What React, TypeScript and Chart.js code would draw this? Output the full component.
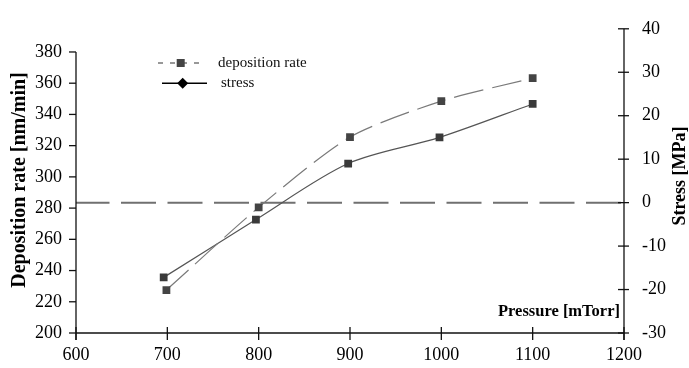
import { useEffect, useRef } from 'react';
import { Chart, registerables } from 'chart.js';

Chart.register(...registerables);

// ---- data ----
const depPressure = [699, 800, 900, 1000, 1100];
const depRate = [227.5, 280.5, 325.5, 348.5, 363.3];
const stressPressure = [696, 797, 898, 998, 1100];
const stressMPa = [-17.2, -3.9, 9.0, 15.0, 22.7];

const xMin = 600;
const xMax = 1200;
const xStep = 100;
const leftMin = 200;
const leftTopTick = 380;
const leftStep = 20;
const rightMin = -30;
const rightMax = 40;
const rightStep = 10;

const leftTitle = 'Deposition rate [nm/min]';
const rightTitle = 'Stress [MPa]';
const xTitle = 'Pressure [mTorr]';
const legendLabels = ['deposition rate', 'stress'];

const SERIF = '"Liberation Serif", "Times New Roman", serif';

const plain = (v: any) => String(v);

const decorPlugin = {
  id: 'decor',
  beforeDatasetsDraw(chart: any) {
    const { ctx, chartArea, scales } = chart;
    const y0 = scales.yR.getPixelForValue(0);
    ctx.save();
    ctx.strokeStyle = '#707070';
    ctx.lineWidth = 2;
    ctx.setLineDash([35, 11.5]);
    ctx.lineDashOffset = 1.5;
    ctx.beginPath();
    ctx.moveTo(chartArea.left, y0);
    ctx.lineTo(chartArea.right, y0);
    ctx.stroke();
    ctx.restore();
  },
  afterDraw(chart: any) {
    const { ctx, chartArea, scales } = chart;
    const { left, right, top, bottom } = chartArea;
    ctx.save();
    ctx.strokeStyle = '#111';
    ctx.lineWidth = 1.3;
    ctx.setLineDash([]);
    // left axis (from top tick down to x tick end)
    const leftTopY = scales.yL.getPixelForValue(leftTopTick);
    ctx.beginPath();
    ctx.moveTo(left, leftTopY);
    ctx.lineTo(left, bottom + 7);
    ctx.stroke();
    scales.yL.ticks.forEach((t: any) => {
      const y = scales.yL.getPixelForValue(t.value);
      ctx.beginPath();
      ctx.moveTo(left - 7, y);
      ctx.lineTo(left, y);
      ctx.stroke();
    });
    // bottom axis
    ctx.beginPath();
    ctx.moveTo(left, bottom);
    ctx.lineTo(right, bottom);
    ctx.stroke();
    scales.x.ticks.forEach((t: any) => {
      const x = scales.x.getPixelForValue(t.value);
      ctx.beginPath();
      ctx.moveTo(x, bottom - 6);
      ctx.lineTo(x, bottom + 7);
      ctx.stroke();
    });
    // right axis
    ctx.beginPath();
    ctx.moveTo(right, top);
    ctx.lineTo(right, bottom + 7);
    ctx.stroke();
    scales.yR.ticks.forEach((t: any) => {
      const y = scales.yR.getPixelForValue(t.value);
      ctx.beginPath();
      ctx.moveTo(right - 6, y);
      ctx.lineTo(right + 5, y);
      ctx.stroke();
    });

    // titles
    ctx.fillStyle = '#000';
    ctx.textAlign = 'center';
    ctx.textBaseline = 'middle';
    ctx.save();
    ctx.translate(20, 180);
    ctx.rotate(-Math.PI / 2);
    ctx.font = `bold 20px ${SERIF}`;
    ctx.fillText(leftTitle, 0, 0);
    ctx.restore();
    ctx.save();
    ctx.translate(680, 176);
    ctx.rotate(-Math.PI / 2);
    ctx.font = `bold 18px ${SERIF}`;
    ctx.fillText(rightTitle, 0, 0);
    ctx.restore();
    ctx.font = `bold 16.5px ${SERIF}`;
    ctx.textAlign = 'right';
    ctx.fillText(xTitle, right - 4, 312);

    // legend
    ctx.strokeStyle = '#777';
    ctx.lineWidth = 1.5;
    ctx.setLineDash([5, 7]);
    ctx.beginPath();
    ctx.moveTo(158, 63);
    ctx.lineTo(206, 63);
    ctx.stroke();
    ctx.setLineDash([]);
    ctx.fillStyle = '#444';
    ctx.fillRect(180.7 - 4, 63 - 4, 8, 8);
    ctx.strokeStyle = '#000';
    ctx.beginPath();
    ctx.moveTo(162, 83.3);
    ctx.lineTo(207, 83.3);
    ctx.stroke();
    ctx.fillStyle = '#000';
    ctx.beginPath();
    ctx.moveTo(182.7, 83.3 - 5.5);
    ctx.lineTo(182.7 + 5.5, 83.3);
    ctx.lineTo(182.7, 83.3 + 5.5);
    ctx.lineTo(182.7 - 5.5, 83.3);
    ctx.closePath();
    ctx.fill();
    ctx.font = `15px ${SERIF}`;
    ctx.textAlign = 'left';
    ctx.fillStyle = '#111';
    ctx.fillText(legendLabels[0], 218, 63);
    ctx.fillText(legendLabels[1], 221, 83);
    ctx.restore();
  },
};

export default function App() {
  const ref = useRef<HTMLCanvasElement | null>(null);
  useEffect(() => {
    if (!ref.current) return;
    // place the 380 tick 24px below the plot top (right axis starts higher)
    const leftPxPerUnit = (333.3 - 42.3) / (leftTopTick - leftMin);
    const leftMax = leftTopTick + (42.3 - 18.3) / leftPxPerUnit;
    const chart = new Chart(ref.current, {
      type: 'line',
      data: {
        datasets: [
          {
            label: legendLabels[0],
            data: depPressure.map((x, i) => ({ x, y: depRate[i] })),
            yAxisID: 'yL',
            borderColor: '#7a7a7a',
            borderWidth: 1.2,
            borderDash: [30, 9],
            tension: 0.25,
            pointStyle: 'rect',
            pointRadius: 5.5,
            pointBackgroundColor: '#444',
            pointBorderColor: '#444',
            pointBorderWidth: 0,
            fill: false,
          },
          {
            label: legendLabels[1],
            data: stressPressure.map((x, i) => ({ x, y: stressMPa[i] })),
            yAxisID: 'yR',
            borderColor: '#555',
            borderWidth: 1.2,
            tension: 0.3,
            pointStyle: 'rect',
            pointRadius: 5.5,
            pointBackgroundColor: '#3a3a3a',
            pointBorderColor: '#3a3a3a',
            pointBorderWidth: 0,
            fill: false,
          },
        ],
      },
      options: {
        responsive: false,
        animation: false,
        layout: { padding: { top: 18, left: 0, right: 0, bottom: 0 } },
        plugins: { legend: { display: false }, tooltip: { enabled: false } },
        font: { family: SERIF },
        scales: {
          x: {
            type: 'linear',
            min: xMin,
            max: xMax,
            grid: { display: false, drawTicks: false },
            border: { display: false },
            ticks: {
              stepSize: xStep,
              color: '#000',
              padding: 11,
              font: { family: SERIF, size: 18 },
              maxRotation: 0,
              callback: plain,
            },
            afterFit: (s: any) => {
              s.height = 35;
            },
          },
          yL: {
            type: 'linear',
            position: 'left',
            min: leftMin,
            max: leftMax,
            grid: { display: false, drawTicks: false },
            border: { display: false },
            ticks: {
              stepSize: leftStep,
              includeBounds: false,
              color: '#000',
              padding: 14,
              font: { family: SERIF, size: 18 },
              callback: plain,
            },
            afterFit: (s: any) => {
              s.width = 76;
            },
          },
          yR: {
            type: 'linear',
            position: 'right',
            min: rightMin,
            max: rightMax,
            grid: { display: false, drawTicks: false },
            border: { display: false },
            ticks: {
              stepSize: rightStep,
              color: '#000',
              padding: 18,
              font: { family: SERIF, size: 18 },
              callback: plain,
            },
            afterFit: (s: any) => {
              s.width = 65;
            },
          },
        },
      } as any,
      plugins: [decorPlugin],
    });
    return () => chart.destroy();
  }, []);
  return (
    <div style={{ position: 'absolute', left: 0, top: 0, width: 689, height: 368, background: '#fff' }}>
      <canvas ref={ref} width={689} height={368} style={{ width: 689, height: 368 }} />
    </div>
  );
}
